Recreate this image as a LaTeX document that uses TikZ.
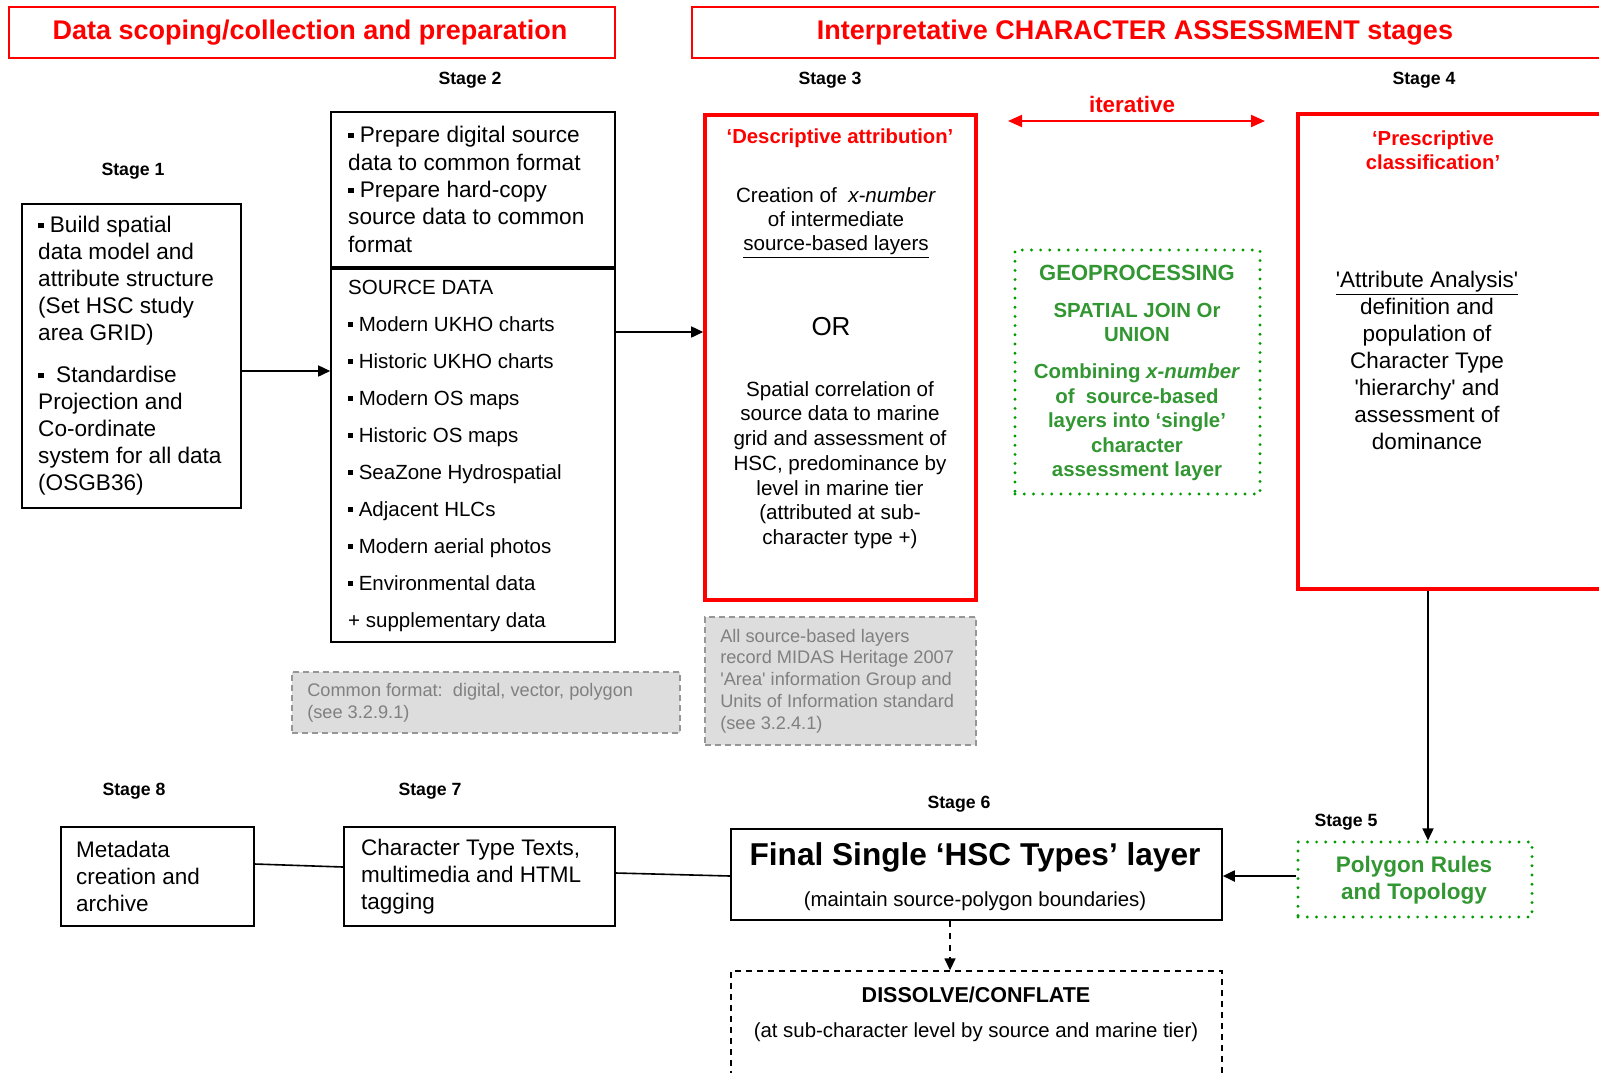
\documentclass[tikz,border=0pt]{standalone}
\usepackage{fontspec}
\setmainfont{Liberation Sans}
\usetikzlibrary{fit,arrows.meta}
\definecolor{hred}{RGB}{255,0,0}
\definecolor{geo}{RGB}{0,155,0}
\definecolor{geotxt}{RGB}{50,150,50}
\definecolor{grayfill}{RGB}{221,221,221}
\definecolor{grayline}{RGB}{150,150,150}
\definecolor{graytxt}{RGB}{128,128,128}
\newcommand{\fs}[2]{\fontsize{#1}{#2}\selectfont}
\newcommand{\bul}{\rule[0.2em]{0.24em}{0.24em}}
\begin{document}
\begin{tikzpicture}[x=0.5pt,y=-0.5pt,
  box/.style={draw=black,line width=0.8pt,inner sep=0pt},
  redbox/.style={draw=hred,line width=1.8pt,inner sep=0pt},
  hdrbox/.style={draw=hred,line width=0.8pt,inner sep=0pt},
  geobox/.style={draw=geo,line width=1.6pt,line cap=round,dash pattern=on 0pt off 4.6pt,inner sep=0pt},
  notebox/.style={draw=grayline,fill=grayfill,line width=0.7pt,dash pattern=on 3pt off 2pt,inner sep=0pt},
  dashbox/.style={draw=black,line width=0.7pt,dash pattern=on 3pt off 2.5pt,inner sep=0pt},
  txt/.style={inner sep=0pt,outer sep=0pt},
  stagelbl/.style={txt,font=\bfseries\fs{8.85pt}{10pt}},
  arr/.style={-{Triangle[length=6pt,width=5.5pt]},line width=0.8pt},
]
\useasboundingbox (0,0) rectangle (1599,1072);
\clip (0,0) rectangle (1599,1072);

% headers
\node[hdrbox,fit={(9,7)(615,58)}] (hdr1) {};
\node[txt,text=hred,font=\bfseries\fs{13.5pt}{15pt}] (hdr1t) at (310,33) {Data scoping/collection and preparation};
\node[hdrbox,fit={(692,7)(1640,58)}] (hdr2) {};
\node[txt,text=hred,font=\bfseries\fs{13.5pt}{15pt}] (hdr2t) at (1135,33) {Interpretative CHARACTER ASSESSMENT stages};

% stage labels
\node[stagelbl] (l1) at (133,171) {Stage 1};
\node[stagelbl] (l2) at (470,80) {Stage 2};
\node[stagelbl] (l3) at (830,80) {Stage 3};
\node[stagelbl] (l4) at (1424,80) {Stage 4};
\node[stagelbl] (l5) at (1346,822) {Stage 5};
\node[stagelbl] (l6) at (959,804) {Stage 6};
\node[stagelbl] (l7) at (430,791) {Stage 7};
\node[stagelbl] (l8) at (134,791) {Stage 8};

% stage 1
\node[box,fit={(22,204)(241,508)}] (s1) {};
\node[txt,anchor=west,align=left,font=\fs{11.3pt}{13.5pt}] (s1t) at ([xshift=8.5pt]s1.west)
 {\bul\ Build spatial\\data model and\\attribute structure\\(Set HSC study\\area GRID)\\[7.5pt]\bul\ \ Standardise\\Projection and\\Co-ordinate\\system for all data\\(OSGB36)};

% stage 2
\node[box,fit={(331,112)(615,267)}] (s2a) {};
\node[txt,anchor=west,align=left,font=\fs{11.3pt}{13.7pt}] (s2at) at ([xshift=9pt]s2a.west)
 {\bul\ Prepare digital source\\data to common format\\\bul\ Prepare hard-copy\\source data to common\\format};
\node[box,fit={(331,269)(615,642)}] (s2b) {};
\node[txt,anchor=west,align=left,font=\fs{10.25pt}{18.5pt}] (s2bt) at ([xshift=9pt]s2b.west)
 {SOURCE DATA\\\bul\ Modern UKHO charts\\\bul\ Historic UKHO charts\\\bul\ Modern OS maps\\\bul\ Historic OS maps\\\bul\ SeaZone Hydrospatial\\\bul\ Adjacent HLCs\\\bul\ Modern aerial photos\\\bul\ Environmental data\\+ supplementary data};

% stage 3
\node[redbox,fit={(705,115)(976,600)}] (s3) {};
\node[txt,text=hred,font=\bfseries\fs{10.15pt}{12pt}] (s3h) at (840,138) {‘Descriptive attribution’};
\node[txt,align=center,font=\fs{10.3pt}{12pt}] (s3a) at (836,223)
 {Creation of\ \ \textit{x-number}\\of intermediate\\\underline{source-based layers}};
\node[txt,font=\fs{13pt}{15pt}] (s3or) at (831,327) {OR};
\node[txt,align=center,font=\fs{10.3pt}{12.35pt}] (s3b) at (840,465)
 {Spatial correlation of\\source data to marine\\grid and assessment of\\HSC, predominance by\\level in marine tier\\(attributed at sub-\\character type +)};

% iterative
\node[txt,text=hred,font=\bfseries\fs{11.2pt}{13pt}] (iter) at (1132,104) {iterative};
\coordinate (it1) at (1008,121);
\coordinate (it2) at (1265,121);
\draw[hred,line width=1pt,{Triangle[length=7pt,width=6pt]}-{Triangle[length=7pt,width=6pt]}] (it1) -- (it2);

% geoprocessing
\node[geobox,fit={(1015,250)(1260,494)}] (geo) {};
\node[txt,align=center,text=geotxt,font=\bfseries\fs{10.2pt}{12.25pt}] (geot) at (1137,373)
 {{\fs{11pt}{12.25pt}GEOPROCESSING}\\[6.25pt]SPATIAL JOIN Or\\UNION\\[6.25pt]Combining \textit{x-number}\\of\ \ source-based\\layers into ‘single’\\character\\assessment layer};

% stage 4
\node[redbox,fit={(1298,114)(1640,589)}] (s4) {};
\node[txt,align=center,text=hred,font=\bfseries\fs{10.15pt}{12pt}] (s4h) at (1433,150) {‘Prescriptive\\classification’};
\node[txt,align=center,font=\fs{11.25pt}{13.5pt}] (s4b) at (1427,360)
 {\underline{\textquotesingle Attribute Analysis\textquotesingle}\\definition and\\population of\\Character Type\\\textquotesingle hierarchy\textquotesingle\ and\\assessment of\\dominance};

% notes
\node[notebox,fit={(292,672)(680,733)}] (n1) {};
\node[txt,anchor=west,align=left,text=graytxt,font=\fs{9.1pt}{10.9pt}] (n1t) at ([xshift=8pt]n1.west)
 {Common format:\ \ digital, vector, polygon\\(see 3.2.9.1)};
\node[notebox,fit={(705,617)(976,745)}] (n2) {};
\node[txt,anchor=west,align=left,text=graytxt,font=\fs{9.1pt}{10.9pt}] (n2t) at ([xshift=8pt]n2.west)
 {All source-based layers\\record MIDAS Heritage 2007\\\textquotesingle Area\textquotesingle\ information Group and\\Units of Information standard\\(see 3.2.4.1)};

% stage 5
\node[geobox,fit={(1298,842)(1532,917)}] (s5) {};
\node[txt,align=center,text=geotxt,font=\bfseries\fs{11.25pt}{13.5pt}] (s5t) at (1414,880) {Polygon Rules\\and Topology};

% stage 6
\node[box,fit={(731,829)(1222,920)}] (s6) {};
\node[txt,font=\bfseries\fs{15.8pt}{18pt}] (s6a) at (975,857) {Final Single ‘HSC Types’ layer};
\node[txt,font=\fs{10.2pt}{12pt}] (s6b) at (975,901) {(maintain source-polygon boundaries)};

% dissolve
\node[dashbox,fit={(731,971)(1222,1110)}] (dis) {};
\node[txt,font=\bfseries\fs{10.75pt}{12pt}] (disa) at (976,995) {DISSOLVE/CONFLATE};
\node[txt,font=\fs{10.2pt}{12pt}] (disb) at (976,1032) {(at sub-character level by source and marine tier)};

% stage 7
\node[box,fit={(344,827)(615,926)}] (s7) {};
\node[txt,anchor=west,align=left,font=\fs{11.25pt}{13.5pt}] (s7t) at ([xshift=9pt]s7.west)
 {Character Type Texts,\\multimedia and HTML\\tagging};

% stage 8
\node[box,fit={(61,827)(254,926)}] (s8) {};
\node[txt,anchor=west,align=left,font=\fs{11.25pt}{13.5pt}] (s8t) at ([xshift=8pt]s8.west)
 {Metadata\\creation and\\archive};

% connectors
\coordinate (a1) at ([yshift=-7.5pt]s1.east);
\draw[arr] (a1) -- (a1 -| s2b.west);
\coordinate (y332) at (0,332);
\coordinate (a2) at (s2b.east |- y332);
\draw[arr] (a2) -- (a2 -| s3.west);
\coordinate (x1428) at (1428,0);
\coordinate (a3) at (s4.south -| x1428);
\draw[arr] (a3) -- (a3 |- s5.north);
\coordinate (a5) at ([yshift=1.75pt]s5.west);
\draw[arr,line width=1pt] (a5) -- (a5 -| s6.east);
\coordinate (x950) at (950,0);
\coordinate (a4) at (s6.south -| x950);
\draw[arr,dashed] (a4) -- (a4 |- dis.north);
\draw[line width=0.8pt] ([yshift=6.25pt]s8.east) -- ([yshift=4.75pt]s7.west);
\draw[line width=0.8pt] ([yshift=1.75pt]s7.east) -- ([yshift=-0.75pt]s6.west);
\end{tikzpicture}
\end{document}
